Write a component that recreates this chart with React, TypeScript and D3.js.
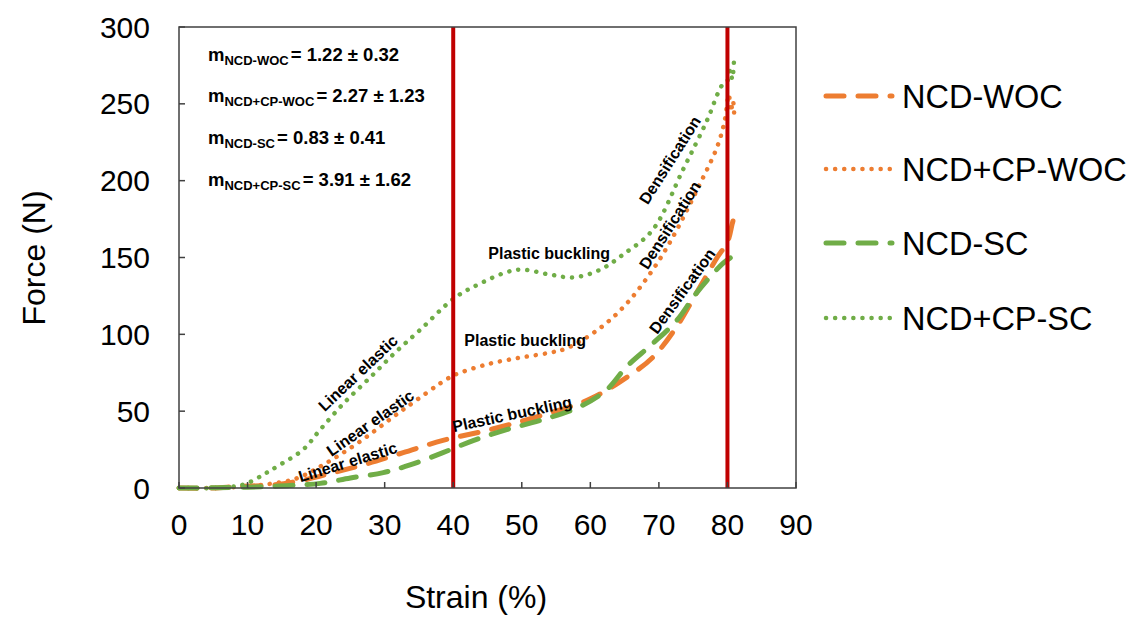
import React from "react";
import * as d3 from "d3";

// ---- data ----
const ncdWocX = [0, 5, 8.5, 13.6, 18, 22.5, 27.6, 32.7, 38.5, 45.4, 52.7, 60, 65.3, 69.1, 72.6, 75.5, 78.5, 80, 80.7, 81];
const ncdWocY = [0, 0, 1, 2, 5, 10, 16, 23, 31, 38, 47, 58, 72, 85, 105, 127, 150, 160, 172, 177];

const ncdCpWocX = [0, 5, 8, 12, 17, 21, 26, 32.7, 39.5, 41, 45.4, 50, 54, 56.6, 61.4, 65.3, 69.1, 72, 76, 78.5, 79.6, 80.2, 80.5, 80.8, 81];
const ncdCpWocY = [0, 0, 0.5, 2, 6, 15, 29, 51, 72, 75, 81, 85, 88, 91, 104, 120, 142, 163, 198, 222, 239, 256, 245, 252, 242];

const ncdScX = [0, 10, 15.7, 20.6, 25, 29.8, 33.7, 38.5, 43, 47.8, 52.7, 58.5, 62.4, 65.3, 69.1, 72.6, 75.5, 79.3, 80.5];
const ncdScY = [0, 0.5, 1.5, 3, 6.5, 10, 15, 23, 31, 38, 44, 53, 64, 79, 94, 109, 127, 146, 150];

const ncdCpScX = [0, 5, 8, 9.9, 12.8, 14.3, 18.1, 20.6, 24, 27.9, 31.5, 35.2, 40, 43, 49.3, 54, 57.5, 61.4, 64.8, 69.1, 73.5, 77, 79.2, 80, 80.4, 80.7, 81];
const ncdCpScY = [0, 0, 1, 3, 10, 14, 25, 38, 55, 72, 88, 103, 123, 131, 142, 139, 137, 142, 152, 168, 207, 239, 262, 265, 272, 266, 282];

const seriesNames = ["NCD-WOC", "NCD+CP-WOC", "NCD-SC", "NCD+CP-SC"];
const xTicks = [0, 10, 20, 30, 40, 50, 60, 70, 80, 90];
const yTicks = [0, 50, 100, 150, 200, 250, 300];
const redLinesX = [40, 80];

const slopeLabels = ["NCD-WOC", "NCD+CP-WOC", "NCD-SC", "NCD+CP-SC"];
const slopeValues = ["1.22 ± 0.32", "2.27 ± 1.23", "0.83 ± 0.41", "3.91 ± 1.62"];

const regionText = ["Linear elastic", "Linear elastic", "Linear elastic", "Plastic buckling", "Plastic buckling", "Plastic buckling", "Densification", "Densification", "Densification"];
const regionX = [26.1, 27.9, 24.6, 54, 50.5, 48.6, 71.6, 71.6, 73.4];
const regionY = [74.8, 42.3, 16.9, 152.9, 96.3, 48.1, 213.4, 171.1, 128.2];
const regionAngle = [-43.5, -35, -17, 0, 0, -12, -57.6, -57.6, -54];

// ---- layout ----
const W = 1134, H = 617;
const left = 179, right = 796, top = 27, bottom = 488;
const ORANGE = "#ED7D31", GREEN = "#70AD47", RED = "#C00000", AXIS = "#404040";
const FONT = "'Liberation Sans', Arial, Helvetica, sans-serif";

const x = d3.scaleLinear().domain([0, 90]).range([left, right]);
const y = d3.scaleLinear().domain([0, 300]).range([bottom, top]);

const styles = [
  { color: ORANGE, dash: "18 14", width: 5 },
  { color: ORANGE, dash: "0.1 9", width: 4.5 },
  { color: GREEN, dash: "18 14", width: 5 },
  { color: GREEN, dash: "0.1 9", width: 4.5 },
];

const seriesData: [number[], number[]][] = [
  [ncdWocX, ncdWocY],
  [ncdCpWocX, ncdCpWocY],
  [ncdScX, ncdScY],
  [ncdCpScX, ncdCpScY],
];

const line = d3
  .line<[number, number]>()
  .x((d) => x(d[0]))
  .y((d) => y(d[1]))
  .curve(d3.curveCatmullRom.alpha(0.5));

export default function App() {
  const legendY = [96, 169, 243, 318];
  const slopeY = [61, 102, 144, 186];
  return (
    <svg width={W} height={H} style={{ position: "absolute", left: 0, top: 0, background: "#fff" }} fontFamily={FONT}>
      <rect x={0} y={0} width={W} height={H} fill="#fff" />
      {/* series */}
      {seriesData.map(([xs, ys], i) => {
        const pts = xs.map((v, k) => [v, ys[k]] as [number, number]);
        return (
          <path
            key={i}
            d={line(pts) || ""}
            fill="none"
            stroke={styles[i].color}
            strokeWidth={styles[i].width}
            strokeDasharray={styles[i].dash}
            strokeLinecap="round"
          />
        );
      })}
      {/* red lines */}
      {redLinesX.map((v) => (
        <line key={v} x1={x(v)} x2={x(v)} y1={y(300)} y2={y(0)} stroke={RED} strokeWidth={4} />
      ))}
      {/* frame */}
      <rect x={left} y={top} width={right - left} height={bottom - top} fill="none" stroke={AXIS} strokeWidth={1.5} />
      {/* ticks */}
      {xTicks.map((t) => (
        <g key={"x" + t}>
          <line x1={x(t)} x2={x(t)} y1={bottom} y2={bottom - 6} stroke={AXIS} strokeWidth={1.5} />
          <text x={x(t)} y={535} fontSize={30} textAnchor="middle" fill="#000">
            {t}
          </text>
        </g>
      ))}
      {yTicks.map((t) => (
        <g key={"y" + t}>
          <line x1={left} x2={left + 6} y1={y(t)} y2={y(t)} stroke={AXIS} strokeWidth={1.5} />
          <text x={150} y={y(t)} dy="0.35em" fontSize={30} textAnchor="end" fill="#000">
            {t}
          </text>
        </g>
      ))}
      {/* axis titles */}
      <text x={476} y={608} fontSize={32} textAnchor="middle" fill="#000">
        Strain (%)
      </text>
      <text transform="translate(45,258) rotate(-90)" fontSize={32} textAnchor="middle" fill="#000">
        Force (N)
      </text>
      {/* slopes */}
      {slopeLabels.map((s, i) => (
        <text key={s} x={208} y={slopeY[i]} fontSize={18.5} fontWeight="bold" fill="#000">
          m
          <tspan fontSize={13} dy={4}>
            {s}
          </tspan>
          <tspan dy={-4} dx={2}>
            {"= " + slopeValues[i]}
          </tspan>
        </text>
      ))}
      {/* region labels */}
      {regionText.map((t, i) => (
        <text
          key={i}
          transform={`translate(${x(regionX[i])},${y(regionY[i])}) rotate(${regionAngle[i]})`}
          dy="0.35em"
          fontSize={16}
          fontWeight="bold"
          textAnchor="middle"
          fill="#000"
        >
          {t}
        </text>
      ))}
      {/* legend */}
      {seriesNames.map((n, i) => (
        <g key={n}>
          <line
            x1={826}
            x2={892}
            y1={legendY[i]}
            y2={legendY[i]}
            stroke={styles[i].color}
            strokeWidth={styles[i].width}
            strokeDasharray={styles[i].dash}
            strokeLinecap="round"
          />
          <text x={902} y={legendY[i]} dy="0.36em" fontSize={32.5} fill="#000">
            {n}
          </text>
        </g>
      ))}
    </svg>
  );
}
